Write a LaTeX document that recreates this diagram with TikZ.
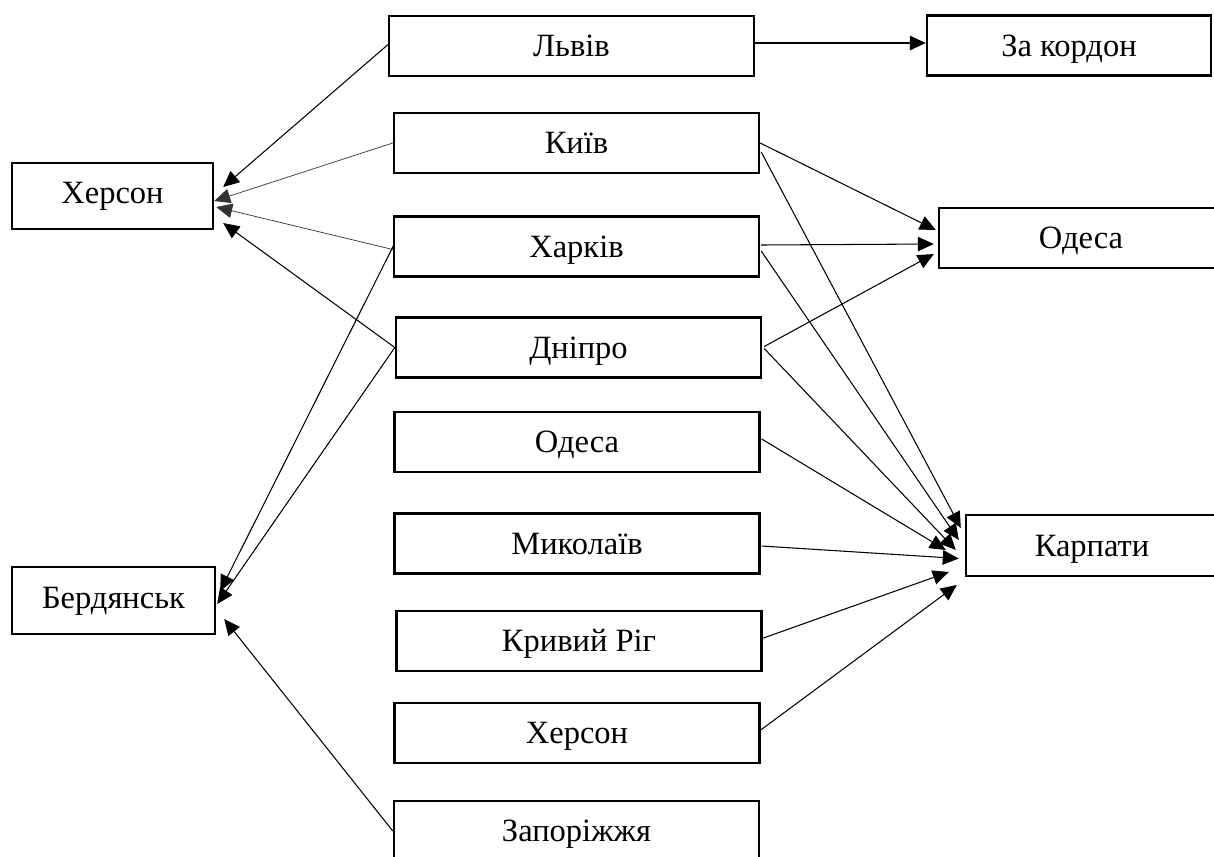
\documentclass[tikz,border=0pt]{standalone}
\usepackage{fontspec}
\setmainfont{Liberation Serif}
\usetikzlibrary{arrows.meta,calc}
\begin{document}
\begin{tikzpicture}[x=0.02cm,y=-0.02cm,
  box/.style={draw, line width=1.4pt, inner sep=0pt, minimum height=1.2cm,
    text height=12.2pt, text depth=0pt,
    font=\fontsize{18.5}{21}\selectfont},
  wide/.style={box, minimum width=7.3cm},
  arr/.style={line width=0.6pt, -{Triangle[length=0.32cm,width=0.29cm]}},
  thinarr/.style={arr, line width=0.4pt, draw=black!80}]
\useasboundingbox (0,0) rectangle (1214,856);
\clip (0,0) rectangle (1214,856);
% left
\node[box, minimum width=4.02cm, minimum height=1.32cm, text height=8.8pt] (khL) at (112.5,196) {Херсон};
\node[box, minimum width=4.06cm, minimum height=1.34cm, text height=9.4pt] (berd) at (113.5,600.5) {Бердянськ};
% middle column
\node[wide] (lviv) at (571.5,46) {Львів};
\node[wide] (kyiv) at (576.5,143) {Київ};
\node[wide] (khar) at (576.5,246.5) {Харків};
\node[wide] (dnip) at (578.5,347.5) {Дніпро};
\node[wide] (odM) at (577,442) {Одеса};
\node[wide] (myk) at (577,543.5) {Миколаїв};
\node[wide] (kryv) at (579,641) {Кривий Ріг};
\node[wide] (khM) at (577,733) {Херсон};
\node[wide] (zap) at (576.5,831) {Запоріжжя};
% right
\node[box, minimum width=5.68cm] (zak) at (1069,45.5) {За кордон};
\node[box, minimum width=5.68cm] (odR) at (1081,238) {Одеса};
\node[box, minimum width=5.04cm, minimum height=1.22cm] (karp) at (1092,545.5) {Карпати};
% connectors
\draw[arr] ($(lviv.east)+(0,-3)$) -- ($(zak.west)+(0,-2.5)$);
\draw[arr] ($(lviv.west)+(2,-3)$) -- ($(khL.east)+(9,-9)$);
\draw[thinarr] (kyiv.west) -- ($(khL.east)+(0,5)$);
\draw[thinarr] ($(khar.west)+(2,3.5)$) -- ($(khL.east)+(2,11)$);
\draw[arr] (dnip.west) -- ($(khL.east)+(9,27)$);
\draw[arr] ($(khar.west)+(1,-1.5)$) -- ($(berd.east)+(4,-9.5)$);
\draw[arr] (dnip.west) -- ($(berd.east)+(1,3.5)$);
\draw[arr] (zap.west) -- ($(berd.east)+(8,18.5)$);
\draw[arr] (kyiv.east) -- ($(odR.west)+(-2,-8)$);
\draw[arr] ($(khar.east)+(1,-1.5)$) -- ($(odR.west)+(-4,6)$);
\draw[arr] ($(dnip.east)+(2,-1)$) -- ($(odR.west)+(-4,16)$);
\draw[arr] ($(kyiv.east)+(1,9)$) -- ($(karp.west)+(-4,-17.5)$);
\draw[arr] ($(khar.east)+(1,4.5)$) -- ($(karp.west)+(-6,-5.5)$);
\draw[arr] ($(dnip.east)+(2,1)$) -- ($(karp.west)+(-9,4.5)$);
\draw[arr] ($(odM.east)+(1,-3)$) -- ($(karp.west)+(-19,4.5)$);
\draw[arr] ($(myk.east)+(1,2.5)$) -- ($(karp.west)+(-6,13)$);
\draw[arr] ($(kryv.east)+(-2,-2)$) -- ($(karp.west)+(-16,26.5)$);
\draw[arr] ($(khM.east)+(0,-3)$) -- ($(karp.west)+(-8,39.5)$);
\end{tikzpicture}
\end{document}
